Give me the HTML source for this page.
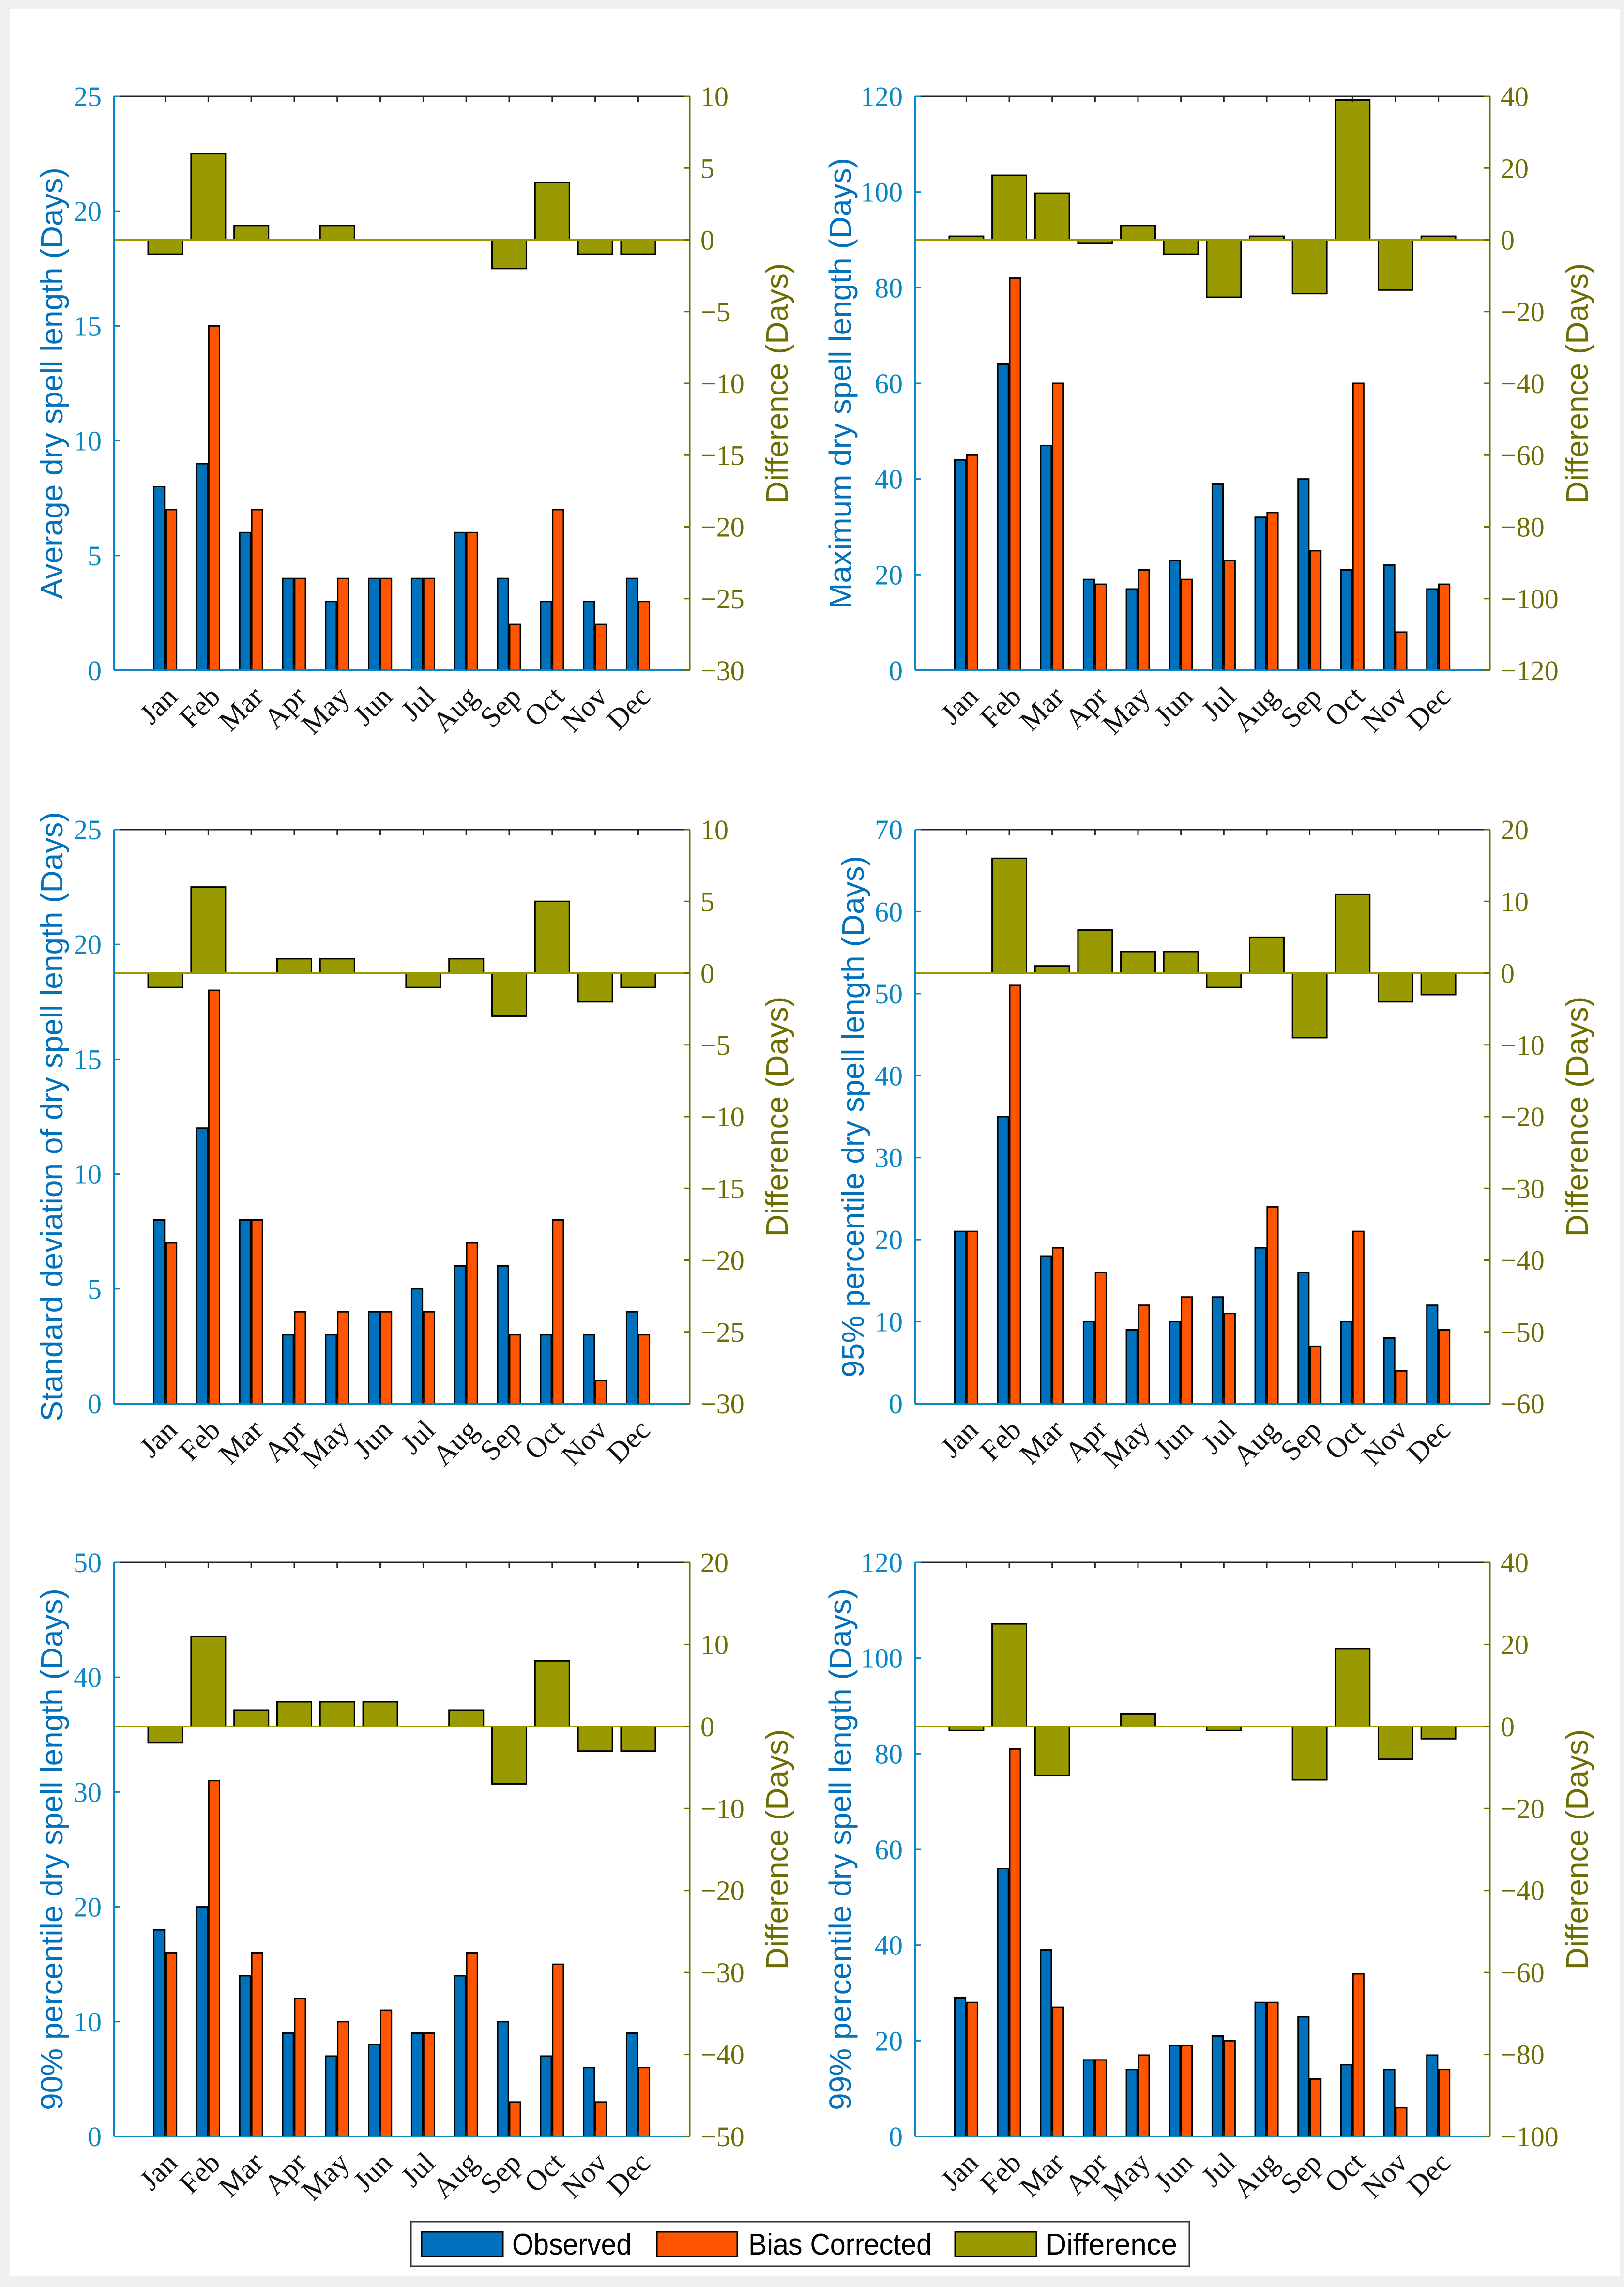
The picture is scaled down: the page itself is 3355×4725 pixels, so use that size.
<!DOCTYPE html>
<html><head><meta charset="utf-8"><style>
html,body{margin:0;padding:0;background:#f0f0f0;}
svg{display:block;}
</style></head><body>
<svg id="fig" width="3355" height="4725" viewBox="0 0 3355 4725" xmlns="http://www.w3.org/2000/svg">
<rect x="20" y="18" width="3327" height="4684" fill="#ffffff"/>
<g id="panels"></g>
<g>
<rect x="849" y="4590" width="1608" height="92" fill="#fff" stroke="#333" stroke-width="3"/>
<rect x="871" y="4611" width="168" height="51" fill="#0072BD" stroke="#000" stroke-width="3"/>
<text x="1058" y="4658" font-family="Liberation Sans, sans-serif" font-size="62" textLength="247" lengthAdjust="spacingAndGlyphs">Observed</text>
<rect x="1357" y="4611" width="166" height="51" fill="#FF5500" stroke="#000" stroke-width="3"/>
<text x="1546" y="4658" font-family="Liberation Sans, sans-serif" font-size="62" textLength="379" lengthAdjust="spacingAndGlyphs">Bias Corrected</text>
<rect x="1973" y="4611" width="168" height="51" fill="#999900" stroke="#000" stroke-width="3"/>
<text x="2160" y="4658" font-family="Liberation Sans, sans-serif" font-size="62" textLength="272" lengthAdjust="spacingAndGlyphs">Difference</text>
</g>
</svg>
<script>
const months = ["Jan","Feb","Mar","Apr","May","Jun","Jul","Aug","Sep","Oct","Nov","Dec"];
const avgObserved = [8,9,6,4,3,4,4,6,4,3,3,4];
const avgCorrected = [7,15,7,4,4,4,4,6,2,7,2,3];
const avgDiff = [-1,6,1,0,1,0,0,0,-2,4,-1,-1];
const maxObserved = [44,64,47,19,17,23,39,32,40,21,22,17];
const maxCorrected = [45,82,60,18,21,19,23,33,25,60,8,18];
const maxDiff = [1,18,13,-1,4,-4,-16,1,-15,39,-14,1];
const stdObserved = [8,12,8,3,3,4,5,6,6,3,3,4];
const stdCorrected = [7,18,8,4,4,4,4,7,3,8,1,3];
const stdDiff = [-1,6,0,1,1,0,-1,1,-3,5,-2,-1];
const p95Observed = [21,35,18,10,9,10,13,19,16,10,8,12];
const p95Corrected = [21,51,19,16,12,13,11,24,7,21,4,9];
const p95Diff = [0,16,1,6,3,3,-2,5,-9,11,-4,-3];
const p90Observed = [18,20,14,9,7,8,9,14,10,7,6,9];
const p90Corrected = [16,31,16,12,10,11,9,16,3,15,3,6];
const p90Diff = [-2,11,2,3,3,3,0,2,-7,8,-3,-3];
const p99Observed = [29,56,39,16,14,19,21,28,25,15,14,17];
const p99Corrected = [28,81,27,16,17,19,20,28,12,34,6,14];
const p99Diff = [-1,25,-12,0,3,0,-1,0,-13,19,-8,-3];
const leftTicks1 = [0,5,10,15,20,25];
const rightTicks1 = [-30,-25,-20,-15,-10,-5,0,5,10];
const leftTicks2 = [0,20,40,60,80,100,120];
const rightTicks2 = [-120,-100,-80,-60,-40,-20,0,20,40];
const leftTicks3 = [0,5,10,15,20,25];
const rightTicks3 = [-30,-25,-20,-15,-10,-5,0,5,10];
const leftTicks4 = [0,10,20,30,40,50,60,70];
const rightTicks4 = [-60,-50,-40,-30,-20,-10,0,10,20];
const leftTicks5 = [0,10,20,30,40,50];
const rightTicks5 = [-50,-40,-30,-20,-10,0,10,20];
const leftTicks6 = [0,20,40,60,80,100,120];
const rightTicks6 = [-100,-80,-60,-40,-20,0,20,40];

const NS="http://www.w3.org/2000/svg";
const root=document.getElementById('panels');
const BLUE="#0072BD", ORANGE="#FF5500", OLIVE="#999900", AXB="#0a86c4", AXO="#6e6e00";
function mk(tag,attrs,parent){const e=document.createElementNS(NS,tag);for(const k in attrs)e.setAttribute(k,attrs[k]);(parent||root).appendChild(e);return e;}

function panel(name,L,T,W,H,ylabel,obs,cor,dif,lt,rt){
  const g=mk('g',{});
  
  
  const B=T+H;
  const x=v=>L+(v+0.2)/13.4*W;
  const lmin=lt[0], lmax=lt[lt.length-1], rmin=rt[0], rmax=rt[rt.length-1];
  const yl=v=>B-(v-lmin)/(lmax-lmin)*H;
  const yr=v=>B-(v-rmin)/(rmax-rmin)*H;
  dif.forEach((d,i)=>{const cx=x(i+1);const y0=yr(0),y1=yr(d);
    const r=mk('rect',{x:cx-0.4*W/13.4,y:Math.min(y0,y1),width:0.8*W/13.4,height:Math.max(Math.abs(y1-y0),0.5),fill:OLIVE,stroke:'#000','stroke-width':3},g);
    
    
  });
  mk('line',{x1:L,x2:L+W,y1:yr(0),y2:yr(0),stroke:OLIVE,'stroke-width':3},g);
  obs.forEach((v,i)=>{const cx=x(i+1);
    const r=mk('rect',{x:cx-0.27*W/13.4,y:yl(v),width:0.25*W/13.4,height:B-yl(v),fill:BLUE,stroke:'#000','stroke-width':3},g);
    
    
  });
  cor.forEach((v,i)=>{const cx=x(i+1);
    const r=mk('rect',{x:cx+0.01*W/13.4,y:yl(v),width:0.25*W/13.4,height:B-yl(v),fill:ORANGE,stroke:'#000','stroke-width':3},g);
    
    
  });
  mk('line',{x1:L,x2:L+W,y1:T,y2:T,stroke:'#222','stroke-width':3},g);
  mk('line',{x1:L,x2:L+W,y1:B,y2:B,stroke:AXB,'stroke-width':4},g);
  mk('line',{x1:L,x2:L,y1:T,y2:B,stroke:AXB,'stroke-width':4},g);
  mk('line',{x1:L+W,x2:L+W,y1:T,y2:B,stroke:AXO,'stroke-width':3},g);
  months.forEach((m,i)=>{const cx=x(i+1);
    mk('line',{x1:cx,x2:cx,y1:T,y2:T+12,stroke:'#222','stroke-width':3},g);
    mk('line',{x1:cx,x2:cx,y1:B,y2:B-12,stroke:'#222','stroke-width':3},g);
    const t=mk('text',{x:cx+28,y:B+58,'text-anchor':'end','font-family':'Liberation Serif, serif','font-size':60,transform:'rotate(-45 '+(cx+28)+' '+(B+58)+')',fill:'#111'},g);
    t.textContent=m;
    
    
  });
  lt.forEach(v=>{const y=yl(v);
    mk('line',{x1:L,x2:L+12,y1:y,y2:y,stroke:AXB,'stroke-width':3},g);
    const t=mk('text',{x:L-25,y:y+20,'text-anchor':'end','font-family':'Liberation Serif, serif','font-size':58,fill:AXB},g);
    t.textContent=v;
    
    
  });
  rt.forEach(v=>{const y=yr(v);
    mk('line',{x1:L+W,x2:L+W-12,y1:y,y2:y,stroke:AXO,'stroke-width':3},g);
    const t=mk('text',{x:L+W+22,y:y+20,'text-anchor':'start','font-family':'Liberation Serif, serif','font-size':58,fill:AXO},g);
    t.textContent=(v<0?'\u2212'+(-v):v);
    
    
  });
  const digits=String(lmax).length;
  const off=76+26*digits;
  const cy=T+H/2;
  const a=mk('text',{x:L-off,y:cy,'text-anchor':'middle','font-family':'Liberation Sans, sans-serif','font-size':64,fill:BLUE,transform:'rotate(-90 '+(L-off)+' '+cy+')','dominant-baseline':'central'},g);
  a.textContent=ylabel;
  
  
  const b=mk('text',{x:L+W+180,y:cy,'text-anchor':'middle','font-family':'Liberation Sans, sans-serif','font-size':64,fill:AXO,transform:'rotate(-90 '+(L+W+180)+' '+cy+')','dominant-baseline':'central'},g);
  b.textContent='Difference (Days)';
  
  
}
const W=1190,H=1186;
panel('average',235,199,W,H,'Average dry spell length (Days)',avgObserved,avgCorrected,avgDiff,leftTicks1,rightTicks1);
panel('maximum',1890,199,W-2,H,'Maximum dry spell length (Days)',maxObserved,maxCorrected,maxDiff,leftTicks2,rightTicks2);
panel('std-dev',235,1714,W,H,'Standard deviation of dry spell length (Days)',stdObserved,stdCorrected,stdDiff,leftTicks3,rightTicks3);
panel('p95',1890,1714,W-2,H,'95% percentile dry spell length (Days)',p95Observed,p95Corrected,p95Diff,leftTicks4,rightTicks4);
panel('p90',235,3228,W,H,'90% percentile dry spell length (Days)',p90Observed,p90Corrected,p90Diff,leftTicks5,rightTicks5);
panel('p99',1890,3228,W-2,H,'99% percentile dry spell length (Days)',p99Observed,p99Corrected,p99Diff,leftTicks6,rightTicks6);
</script>
</body></html>
